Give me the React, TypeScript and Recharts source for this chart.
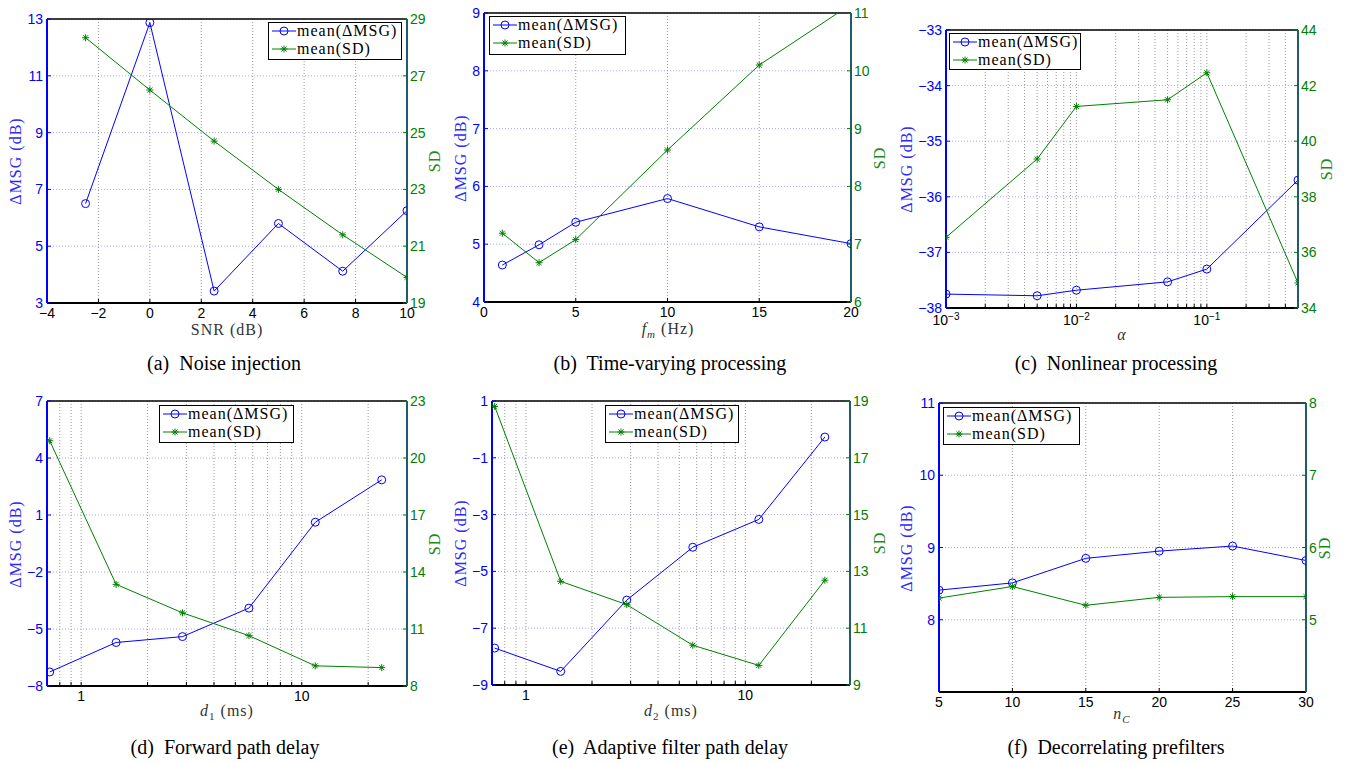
import React from "react";
import { LineChart, Line, XAxis, YAxis, CartesianGrid, ReferenceLine, Legend } from "recharts";

// (a) noise injection
const snrValues = [-2.5, 0, 2.5, 5, 7.5, 10];
const snrMsg = [6.5, 12.87, 3.42, 5.8, 4.12, 6.25];
const snrSd = [28.34, 26.5, 24.7, 23.0, 21.4, 19.9];

// (b) time-varying processing
const fmValues = [1, 3, 5, 10, 15, 20];
const fmMsg = [4.64, 4.99, 5.38, 5.79, 5.3, 5.01];
const fmSd = [7.19, 6.68, 7.08, 8.63, 10.1, 11.15];

// (c) nonlinear processing
const alphaValues = [0.001, 0.005, 0.01, 0.05, 0.1, 0.5];
const alphaMsg = [-37.75, -37.78, -37.68, -37.53, -37.3, -35.7];
const alphaSd = [36.54, 39.36, 41.25, 41.49, 42.46, 34.9];

// (d) forward path delay
const d1Values = [0.72, 1.44, 2.88, 5.76, 11.52, 23.04];
const d1Msg = [-7.26, -5.71, -5.4, -3.9, 0.62, 2.85];
const d1Sd = [20.91, 13.35, 11.85, 10.65, 9.06, 8.97];

// (e) adaptive filter path delay
const d2Values = [0.72, 1.44, 2.88, 5.76, 11.52, 23.04];
const d2Msg = [-7.7, -8.52, -6.01, -4.15, -3.17, -0.27];
const d2Sd = [18.81, 12.65, 11.83, 10.4, 9.69, 12.69];

// (f) decorrelating prefilters
const ncValues = [5, 10, 15, 20, 25, 30];
const ncMsg = [8.41, 8.51, 8.85, 8.95, 9.02, 8.82];
const ncSd = [5.3, 5.46, 5.2, 5.31, 5.32, 5.32];

// ticks
const snrTicks = [-4, -2, 0, 2, 4, 6, 8, 10];
const fmTicks = [0, 5, 10, 15, 20];
const alphaMajor = [0.001, 0.01, 0.1];
const alphaTicks = [0.001, 0.002, 0.003, 0.004, 0.005, 0.006, 0.007, 0.008, 0.009, 0.01, 0.02, 0.03, 0.04, 0.05, 0.06, 0.07, 0.08, 0.09, 0.1, 0.2, 0.3, 0.4];
const delayMajor = [1, 10];
const delayTicks = [0.8, 0.9, 1, 2, 3, 4, 5, 6, 7, 8, 9, 10, 20];
const ncTicks = [5, 10, 15, 20, 25, 30];

const BLUE = "#0000ff";
const GREEN = "#008000";
const RIGHT_AXIS = "#1f5c6e";
const SANS = "'Liberation Sans', Arial, sans-serif";
const SERIF = "'Liberation Serif', 'Times New Roman', serif";
const AX = 60;

const fmt = (v: number) => (v < 0 ? "\u2212" + Math.abs(v) : String(v));

type Panel = {
  xs: number[]; msg: number[]; sd: number[];
  plot: [number, number, number, number]; // left, top, width, height
  xDomain: [number, number]; xTicks: number[]; xMajor?: number[]; log?: boolean; sup?: boolean;
  lDomain: [number, number]; lTicks: number[];
  rDomain: [number, number]; rTicks: number[];
  legend: [number, number, number, number];
  yTitleX: [number, number];
  xTitle: React.ReactNode; xTitlePos: [number, number];
  caption: string; capPos: [number, number];
};

const panels: Panel[] = [
  {
    xs: snrValues, msg: snrMsg, sd: snrSd, plot: [47, 19, 360, 284],
    xDomain: [-4, 10], xTicks: snrTicks,
    lDomain: [3, 13], lTicks: [3, 5, 7, 9, 11, 13], rDomain: [19, 29], rTicks: [19, 21, 23, 25, 27, 29],
    legend: [268, 22, 134, 38], yTitleX: [16, 435],
    xTitle: <span>SNR (dB)</span>, xTitlePos: [227, 330],
    caption: "(a)  Noise injection", capPos: [224, 363],
  },
  {
    xs: fmValues, msg: fmMsg, sd: fmSd, plot: [484, 13, 367, 289],
    xDomain: [0, 20], xTicks: fmTicks,
    lDomain: [4, 9], lTicks: [4, 5, 6, 7, 8, 9], rDomain: [6, 11], rTicks: [6, 7, 8, 9, 10, 11],
    legend: [489, 16, 137, 39], yTitleX: [461, 880],
    xTitle: <span><i>f</i><sub style={{ fontSize: 11 }}><i>m</i></sub> (Hz)</span>, xTitlePos: [668, 330],
    caption: "(b)  Time-varying processing", capPos: [670, 363],
  },
  {
    xs: alphaValues, msg: alphaMsg, sd: alphaSd, plot: [946, 30, 352, 278],
    xDomain: [0.001, 0.5], xTicks: alphaTicks, xMajor: alphaMajor, log: true, sup: true,
    lDomain: [-38, -33], lTicks: [-38, -37, -36, -35, -34, -33], rDomain: [34, 44], rTicks: [34, 36, 38, 40, 42, 44],
    legend: [949, 33, 132, 37], yTitleX: [907, 1327],
    xTitle: <i>α</i>, xTitlePos: [1122, 335],
    caption: "(c)  Nonlinear processing", capPos: [1116, 363],
  },
  {
    xs: d1Values, msg: d1Msg, sd: d1Sd, plot: [47, 401, 360, 285],
    xDomain: [0.7, 30], xTicks: delayTicks, xMajor: delayMajor, log: true,
    lDomain: [-8, 7], lTicks: [-8, -5, -2, 1, 4, 7], rDomain: [8, 23], rTicks: [8, 11, 14, 17, 20, 23],
    legend: [159, 405, 135, 38], yTitleX: [16, 435],
    xTitle: <span><i>d</i><sub style={{ fontSize: 11 }}>1</sub> (ms)</span>, xTitlePos: [227, 712],
    caption: "(d)  Forward path delay", capPos: [225, 747],
  },
  {
    xs: d2Values, msg: d2Msg, sd: d2Sd, plot: [492, 401, 358, 284],
    xDomain: [0.7, 30], xTicks: delayTicks, xMajor: delayMajor, log: true,
    lDomain: [-9, 1], lTicks: [-9, -7, -5, -3, -1, 1], rDomain: [9, 19], rTicks: [9, 11, 13, 15, 17, 19],
    legend: [605, 405, 134, 38], yTitleX: [461, 880],
    xTitle: <span><i>d</i><sub style={{ fontSize: 11 }}>2</sub> (ms)</span>, xTitlePos: [671, 712],
    caption: "(e)  Adaptive filter path delay", capPos: [670, 747],
  },
  {
    xs: ncValues, msg: ncMsg, sd: ncSd, plot: [939, 403, 367, 289],
    xDomain: [5, 30], xTicks: ncTicks,
    lDomain: [7, 11], lTicks: [8, 9, 10, 11], rDomain: [4, 8], rTicks: [5, 6, 7, 8],
    legend: [943, 407, 137, 38], yTitleX: [907, 1325],
    xTitle: <span><i>n</i><sub style={{ fontSize: 11 }}><i>C</i></sub></span>, xTitlePos: [1122, 715],
    caption: "(f)  Decorrelating prefilters", capPos: [1116, 747],
  },
];

const Star = (props: any) => {
  const { cx, cy, index } = props;
  if (cx == null || cy == null) return <g key={`s-${index}`} />;
  const s = 3.5;
  const d = s * 0.72;
  return (
    <g key={`s-${index}`} stroke={GREEN} strokeWidth={1}>
      <line x1={cx - s} y1={cy} x2={cx + s} y2={cy} />
      <line x1={cx} y1={cy - s} x2={cx} y2={cy + s} />
      <line x1={cx - d} y1={cy - d} x2={cx + d} y2={cy + d} />
      <line x1={cx - d} y1={cy + d} x2={cx + d} y2={cy - d} />
    </g>
  );
};

const LegendBox = ({ w, h }: { w: number; h: number }) => (
  <div style={{ width: w, height: h, boxSizing: "border-box", border: "1.5px solid #000", background: "#fff", fontFamily: SERIF, fontSize: 16, letterSpacing: 1, color: "#000", lineHeight: "18px" }}>
    {[0, 1].map((i) => (
      <div key={i} style={{ display: "flex", alignItems: "center", height: 18, marginTop: i === 0 ? -1 : 0 }}>
        <svg width={28} height={12} style={{ flex: "none" }}>
          <line x1={3} y1={6} x2={27} y2={6} stroke={i === 0 ? BLUE : GREEN} strokeWidth={1} />
          {i === 0 ? <circle cx={15} cy={6} r={4} fill="none" stroke={BLUE} strokeWidth={1} /> : <Star cx={15} cy={6} index={0} />}
        </svg>
        <span>{i === 0 ? "mean(\u0394MSG)" : "mean(SD)"}</span>
      </div>
    ))}
  </div>
);

const PanelChart = ({ p }: { p: Panel }) => {
  const [pl, pt, pw, ph] = p.plot;
  const left = pl - AX;
  const top = pt - 10;
  const data = p.xs.map((x, i) => ({ x, msg: p.msg[i], sd: p.sd[i] }));
  const major = p.xMajor;

  const xTick = (props: any) => {
    const { x, y, payload } = props;
    const v = payload.value;
    if (major && !major.some((m) => Math.abs(m - v) < 1e-9)) return <g />;
    if (p.sup) {
      const e = Math.round(Math.log10(v));
      return (
        <text x={x} y={y} dy="0.85em" textAnchor="middle" fill="#000" fontSize={14} fontFamily={SANS}>
          10<tspan dy="-0.5em" fontSize={10}>{fmt(e)}</tspan>
        </text>
      );
    }
    return (
      <text x={x} y={y} dy="0.72em" textAnchor="middle" fill="#000" fontSize={14} fontFamily={SANS}>{fmt(v)}</text>
    );
  };
  const yTick = (fill: string) => (props: any) => {
    const { x, y, payload, textAnchor } = props;
    return (
      <text x={x} y={y} textAnchor={textAnchor} dominantBaseline="central" fill={fill} fontSize={14} fontFamily={SANS}>{fmt(payload.value)}</text>
    );
  };

  return (
    <div style={{ position: "absolute", left, top }}>
      <LineChart width={pw + 2 * AX} height={ph + 40} data={data} margin={{ top: 10, right: 0, bottom: 0, left: 0 }}>
        <CartesianGrid yAxisId="l" vertical={false} stroke="#a8a8ff" strokeDasharray="1 2" />
        <CartesianGrid yAxisId="l" horizontal={false} stroke="#9a9a9a" strokeDasharray="1 2" />
        <XAxis dataKey="x" type="number" scale={p.log ? "log" : "linear"} domain={p.xDomain} allowDataOverflow ticks={p.xTicks} interval={0}
          tick={xTick} tickLine={{ stroke: "#000", strokeWidth: 1 }} tickSize={-4} tickMargin={9} height={30} axisLine={{ stroke: "#000", strokeWidth: 2 }} />
        <YAxis yAxisId="l" orientation="left" width={AX} domain={p.lDomain} allowDataOverflow ticks={p.lTicks} interval={0}
          tick={yTick(BLUE)} tickLine={{ stroke: BLUE, strokeWidth: 1 }} tickSize={-4} tickMargin={8} axisLine={{ stroke: BLUE, strokeWidth: 2 }} />
        <YAxis yAxisId="r" orientation="right" width={AX} domain={p.rDomain} allowDataOverflow ticks={p.rTicks} interval={0}
          tick={yTick(GREEN)} tickLine={{ stroke: GREEN, strokeWidth: 1 }} tickSize={-4} tickMargin={7} axisLine={{ stroke: RIGHT_AXIS, strokeWidth: 2 }} />
        <ReferenceLine yAxisId="l" y={p.lDomain[1]} stroke="#000" strokeWidth={1.5} />
        <Line yAxisId="l" dataKey="msg" name="mean(ΔMSG)" stroke={BLUE} strokeWidth={1} isAnimationActive={false}
          dot={{ r: 4, fill: "none", stroke: BLUE, strokeWidth: 1 }} activeDot={false} />
        <Line yAxisId="r" dataKey="sd" name="mean(SD)" stroke={GREEN} strokeWidth={1} isAnimationActive={false}
          dot={(props: any) => <Star {...props} key={`st-${props.index}`} />} activeDot={false} />
        <Legend layout="vertical" align="center" verticalAlign="middle"
          wrapperStyle={{ left: p.legend[0] - left, top: p.legend[1] - top, width: "auto", height: "auto", bottom: "auto", right: "auto" }}
          content={() => <LegendBox w={p.legend[2]} h={p.legend[3]} />} />
      </LineChart>
    </div>
  );
};

const abs = (x: number, y: number, extra: React.CSSProperties = {}): React.CSSProperties => ({
  position: "absolute", left: x, top: y, transform: "translate(-50%, -50%)", whiteSpace: "pre", ...extra,
});

export default function App() {
  return (
    <div style={{ position: "absolute", left: 0, top: 0, width: 1348, height: 763, background: "#fff", overflow: "hidden" }}>
      {panels.map((p, i) => {
        const cy = p.plot[1] + p.plot[3] / 2;
        return (
          <React.Fragment key={i}>
            <PanelChart p={p} />
            <div style={abs(p.yTitleX[0], cy, { transform: "translate(-50%, -50%) rotate(-90deg)", fontFamily: SERIF, fontSize: 16, letterSpacing: 1, color: "#2a2aff" })}>{"\u0394MSG (dB)"}</div>
            <div style={abs(p.yTitleX[1], cy, { transform: "translate(-50%, -50%) rotate(-90deg)", fontFamily: SERIF, fontSize: 16, letterSpacing: 1, color: "#1a8a1a" })}>SD</div>
            <div style={abs(p.xTitlePos[0], p.xTitlePos[1], { fontFamily: SERIF, fontSize: 16, letterSpacing: 1, color: "#333" })}>{p.xTitle}</div>
            <div style={abs(p.capPos[0], p.capPos[1], { fontFamily: SERIF, fontSize: 20, color: "#000" })}>{p.caption}</div>
          </React.Fragment>
        );
      })}
    </div>
  );
}
